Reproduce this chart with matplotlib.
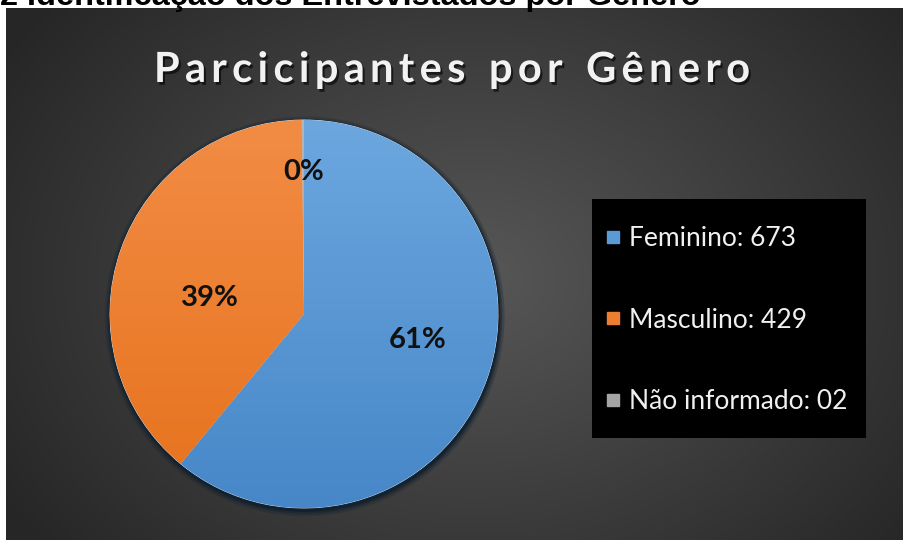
import numpy as np
import matplotlib.pyplot as plt
import matplotlib.patheffects as pe
from matplotlib.lines import Line2D
from matplotlib.patches import Rectangle, Circle

# dados
categorias = ['Feminino', 'Masculino', 'Não informado']
valores = [673, 429, 2]
rotulos_legenda = ['Feminino: 673', 'Masculino: 429', 'Não informado: 02']
cores = ['#5B9BD5', '#ED7D31', '#A5A5A5']
cores_topo = ['#6CA7DF', '#F28C45', '#B5B5B5']
cores_base = ['#4787C8', '#E6721C', '#979797']
titulo = 'Parcicipantes por Gênero'
cabecalho = '2 Identificação dos Entrevistados por Gênero'

# ajuste fino da posição dos rótulos (distância do centro, desvio em graus)
dist_rotulo = [0.60, 0.49, 0.73]
desvio_rotulo = [7.0, 10.0, 0.0]

W, H = 904, 540
fig = plt.figure(figsize=(W / 100, H / 100), dpi=100)
fig.patch.set_facecolor('white')
renderer = fig.canvas.get_renderer()

fonte = ['Lato', 'DejaVu Sans']

# cabeçalho cortado no topo
fig.text(0 / W, 1 - 5 / H, cabecalho, fontsize=23.4, fontweight='bold',
         family='Liberation Sans', color='black', ha='left', va='baseline')

# fundo com gradiente radial
bg = fig.add_axes([6 / W, 0, 1 - 6 / W, 532 / H])
yy, xx = np.mgrid[0:532, 0:898]
d = np.sqrt(((xx - 470) / 560.0) ** 2 + ((yy - 270) / 430.0) ** 2)
v = (0x57 - (0x57 - 0x26) * np.clip(d, 0, 1)) / 255.0
bg.imshow(np.dstack([v, v, v]), aspect='auto')
bg.axis('off')

# pizza
cx, cy, r = 304, 314, 194
ax = fig.add_axes([(cx - r) / W, (H - cy - r) / H, 2 * r / W, 2 * r / H])
ax.axis('off')

for k, a in [(1.03, 0.25), (1.018, 0.45), (1.008, 0.8)]:
    ax.add_patch(Circle((0.004, -0.012), k, facecolor='#10202f', alpha=a,
                        edgecolor='none', zorder=0, clip_on=False))

wedges, _ = ax.pie(valores, colors=cores, startangle=90, counterclock=False,
                   wedgeprops=dict(linewidth=0.6, edgecolor='#d9e4ee'))

grad = np.linspace(0, 1, 256).reshape(-1, 1)
for w, c0, c1 in zip(wedges, cores_topo, cores_base):
    a0 = np.array(plt.matplotlib.colors.to_rgb(c0))
    a1 = np.array(plt.matplotlib.colors.to_rgb(c1))
    img = a0 + (a1 - a0) * grad[:, :, None]
    img = np.repeat(img, 2, axis=1)
    im = ax.imshow(img, extent=[-1, 1, -1, 1], aspect='auto', zorder=2)
    im.set_clip_path(w)

total = sum(valores)
for w, val, dd, dv in zip(wedges, valores, dist_rotulo, desvio_rotulo):
    ang = np.deg2rad((w.theta1 + w.theta2) / 2 + dv)
    ax.text(dd * np.cos(ang), dd * np.sin(ang), f'{round(100 * val / total)}%',
            ha='center', va='center', fontsize=21, fontweight='bold',
            family=fonte, color='#111111', zorder=5)

ax.set_xlim(-1, 1)
ax.set_ylim(-1, 1)

# título com espaçamento entre letras
estilo = dict(fontsize=30, fontweight='bold', family=fonte, color='#f2f2f2',
              va='center', ha='left',
              path_effects=[pe.withSimplePatchShadow(offset=(1.5, -2), shadow_rgbFace='black', alpha=0.6)])
espaco = 5.3
larguras = []
for ch in titulo:
    t = fig.text(0, 0, ch if ch != ' ' else 'n', **estilo)
    wd = t.get_window_extent(renderer).width
    larguras.append(wd * (0.55 if ch == ' ' else 1.0))
    t.remove()
total_w = sum(larguras) + espaco * (len(titulo) - 1)
x0 = 452 - total_w / 2
for ch, wd in zip(titulo, larguras):
    if ch != ' ':
        fig.text(x0 / W, 1 - 70 / H, ch, **estilo)
    x0 += wd + espaco

# legenda
fig.add_artist(Rectangle((592 / W, 1 - 438 / H), (866 - 592) / W, (438 - 199) / H,
                         transform=fig.transFigure, facecolor='black', edgecolor='none'))
handles = [Line2D([], [], marker='s', linestyle='none', markersize=9,
                  markerfacecolor=c, markeredgecolor=c) for c in cores]
fig.legend(handles, rotulos_legenda, loc='center left',
           bbox_to_anchor=(592 / W, 1 - 320 / H), frameon=False, borderpad=0,
           prop=dict(family=fonte, size=19), labelcolor='#f0f0f0',
           labelspacing=2.15, handlelength=0.6, handletextpad=0.3)

fig.savefig('out.png', dpi=100, facecolor='white')
